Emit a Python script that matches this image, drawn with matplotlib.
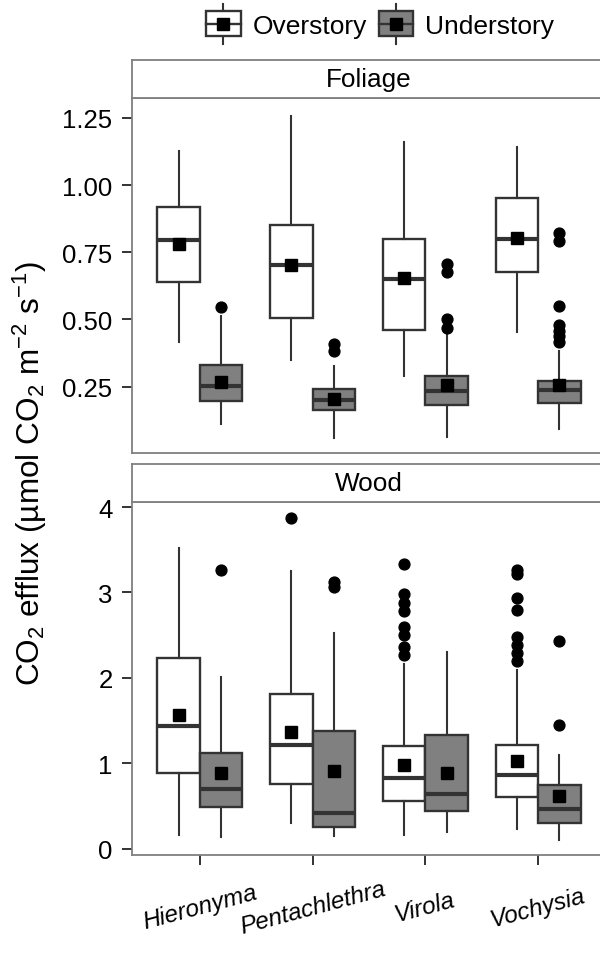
import matplotlib
matplotlib.use("Agg")
import matplotlib.pyplot as plt
from matplotlib.patches import Rectangle
from matplotlib.lines import Line2D
from matplotlib.legend_handler import HandlerBase

plt.rcParams['font.family'] = ['Liberation Sans', 'DejaVu Sans']
plt.rcParams['mathtext.fontset'] = 'custom'
plt.rcParams['mathtext.rm'] = 'Liberation Sans'
plt.rcParams['mathtext.it'] = 'Liberation Sans:italic'
plt.rcParams['mathtext.bf'] = 'Liberation Sans:bold'

species = ["Hieronyma", "Pentachlethra", "Virola", "Vochysia"]
groups = ["Overstory", "Understory"]

# ---- Foliage ----
fol_over_whislo = [0.415, 0.350, 0.288, 0.455]
fol_over_q1 = [0.638, 0.507, 0.462, 0.676]
fol_over_med = [0.795, 0.704, 0.651, 0.800]
fol_over_q3 = [0.917, 0.853, 0.798, 0.951]
fol_over_whishi = [1.128, 1.256, 1.159, 1.143]
fol_over_mean = [0.781, 0.704, 0.656, 0.802]
fol_over_fliers = [[], [], [], []]

fol_under_whislo = [0.111, 0.059, 0.063, 0.093]
fol_under_q1 = [0.195, 0.164, 0.182, 0.189]
fol_under_med = [0.254, 0.200, 0.234, 0.236]
fol_under_q3 = [0.332, 0.241, 0.291, 0.272]
fol_under_whishi = [0.514, 0.328, 0.452, 0.384]
fol_under_mean = [0.269, 0.205, 0.257, 0.257]
fol_under_fliers = [[0.548], [0.409, 0.381], [0.707, 0.676, 0.502, 0.470],
                    [0.822, 0.793, 0.551, 0.481, 0.458, 0.437, 0.417]]

# ---- Wood ----
wood_over_whislo = [0.156, 0.304, 0.156, 0.234]
wood_over_q1 = [0.886, 0.757, 0.562, 0.605]
wood_over_med = [1.436, 1.210, 0.831, 0.866]
wood_over_q3 = [2.232, 1.815, 1.206, 1.210]
wood_over_whishi = [3.520, 3.250, 2.165, 2.087]
wood_over_mean = [1.561, 1.366, 0.976, 1.022]
wood_over_fliers = [[], [3.870],
                    [3.328, 2.977, 2.879, 2.782, 2.595, 2.497, 2.361, 2.270],
                    [3.258, 3.219, 2.938, 2.797, 2.478, 2.388, 2.294, 2.197]]

wood_under_whislo = [0.133, 0.148, 0.195, 0.098]
wood_under_q1 = [0.488, 0.258, 0.445, 0.300]
wood_under_med = [0.695, 0.414, 0.644, 0.468]
wood_under_q3 = [1.120, 1.378, 1.327, 0.741]
wood_under_whishi = [2.006, 2.525, 2.302, 1.093]
wood_under_mean = [0.886, 0.905, 0.882, 0.613]
wood_under_fliers = [[3.260], [3.120, 3.060], [], [2.427, 1.443]]

fol_ticks = [0.25, 0.50, 0.75, 1.00, 1.25]
fol_ticklabels = ["0.25", "0.50", "0.75", "1.00", "1.25"]
wood_ticks = [0, 1, 2, 3, 4]
wood_ticklabels = ["0", "1", "2", "3", "4"]

EDGE = '#333333'
FILLS = ['white', '#808080']
BORDER = '#7f7f7f'
DPI = 100
W, H = 600, 954
TICK_FS = 18.5
STRIP_FS = 18.8


def stats(whislo, q1, med, q3, whishi, mean, fliers):
    out = []
    for i in range(len(med)):
        out.append(dict(whislo=whislo[i], q1=q1[i], med=med[i], q3=q3[i],
                        whishi=whishi[i], mean=mean[i], fliers=fliers[i]))
    return out


fig = plt.figure(figsize=(W / DPI, H / DPI), dpi=DPI)


def px_axes(left, top, right, bottom):
    return fig.add_axes([left / W, 1 - bottom / H, (right - left) / W, (bottom - top) / H])


def draw_panel(ax, over, under, ylim, ticks, ticklabels):
    pos = list(range(1, len(species) + 1))
    for k, (st, off) in enumerate([(over, -0.1875), (under, 0.1875)]):
        ax.bxp(st, positions=[p + off for p in pos], widths=0.375,
               patch_artist=True, showmeans=True, showcaps=False,
               boxprops=dict(facecolor=FILLS[k], edgecolor=EDGE, linewidth=1.7),
               medianprops=dict(color=EDGE, linewidth=3.0, solid_capstyle='butt'),
               whiskerprops=dict(color=EDGE, linewidth=1.5),
               meanprops=dict(marker='s', markerfacecolor='black', markeredgecolor='black',
                              markersize=8.3),
               flierprops=dict(marker='o', markerfacecolor='black', markeredgecolor='black',
                               markersize=7.8),
               manage_ticks=False, zorder=2)
    ax.set_xlim(0.4, len(species) + 0.6)
    ax.set_ylim(*ylim)
    ax.set_yticks(ticks)
    ax.set_yticklabels(ticklabels)
    ax.set_xticks(pos)
    for s in ax.spines.values():
        s.set_color(BORDER)
        s.set_linewidth(1.3)
    ax.tick_params(axis='both', direction='out', length=7.5, width=1.4, color='#333333',
                   labelsize=TICK_FS, labelcolor='black', pad=6.5)


def strip(left, top, right, bottom, label, ref_ax):
    sa = px_axes(left, top, right, bottom)
    sa.set_xticks([])
    sa.set_yticks([])
    for s in sa.spines.values():
        s.set_color(BORDER)
        s.set_linewidth(1.3)
    sa.set_xlim(ref_ax.get_xlim())
    sa.text(sum(ref_ax.get_xlim()) / 2, 0.5, label, transform=sa.get_xaxis_transform(),
            ha='center', va='center', fontsize=STRIP_FS)
    return sa


# Foliage panel
ax1 = px_axes(132, 99, 606, 454)
draw_panel(ax1,
           stats(fol_over_whislo, fol_over_q1, fol_over_med, fol_over_q3, fol_over_whishi, fol_over_mean, fol_over_fliers),
           stats(fol_under_whislo, fol_under_q1, fol_under_med, fol_under_q3, fol_under_whishi, fol_under_mean, fol_under_fliers),
           (0.003, 1.324), fol_ticks, fol_ticklabels)
ax1.tick_params(axis='x', length=0, labelbottom=False)
strip(132, 61, 606, 99, "Foliage", ax1)

# Wood panel
ax2 = px_axes(132, 503, 606, 856)
draw_panel(ax2,
           stats(wood_over_whislo, wood_over_q1, wood_over_med, wood_over_q3, wood_over_whishi, wood_over_mean, wood_over_fliers),
           stats(wood_under_whislo, wood_under_q1, wood_under_med, wood_under_q3, wood_under_whishi, wood_under_mean, wood_under_fliers),
           (-0.075, 4.06), wood_ticks, wood_ticklabels)
ax2.set_xticklabels(species, rotation=15, ha='center', va='center', rotation_mode='anchor',
                    style='italic', fontsize=17.5)
ax2.tick_params(axis='x', pad=30)
strip(132, 465, 606, 503, "Wood", ax2)

# Y label
fig.text(30 / W, 1 - 474 / H, "CO$_2$ efflux (µmol CO$_2$ m$^{-2}$ s$^{-1}$)",
         rotation=90, ha='center', va='center', fontsize=22.7)


# Legend with custom box key
class BoxKey:
    def __init__(self, face):
        self.face = face


class BoxHandler(HandlerBase):
    def create_artists(self, legend, orig_handle, xdescent, ydescent, width, height,
                       fontsize, trans):
        x0, y0 = -xdescent, -ydescent
        cx = x0 + width / 2
        cy = y0 + height / 2
        bh = height * 1.35
        wh = height * 2.15
        arts = []
        arts.append(Line2D([cx, cx], [cy - wh / 2, cy + wh / 2], color=EDGE, lw=1.5, transform=trans))
        arts.append(Rectangle((x0, cy - bh / 2), width, bh, facecolor=orig_handle.face,
                              edgecolor=EDGE, lw=1.7, transform=trans))
        arts.append(Line2D([x0, x0 + width], [cy, cy], color=EDGE, lw=1.7, transform=trans))
        arts.append(Line2D([cx], [cy], marker='s', markersize=8.3, color='black', lw=0,
                           transform=trans))
        return arts


handles = [BoxKey(FILLS[0]), BoxKey(FILLS[1])]
fig.legend(handles, groups, handler_map={BoxKey: BoxHandler()}, ncol=2,
           loc='center', bbox_to_anchor=(380 / W, 1 - 27 / H), frameon=False,
           fontsize=19, handlelength=1.3, handleheight=0.7, handletextpad=0.45,
           columnspacing=0.45, borderaxespad=0, borderpad=0)

fig.savefig("out.png", dpi=DPI, facecolor='white')
